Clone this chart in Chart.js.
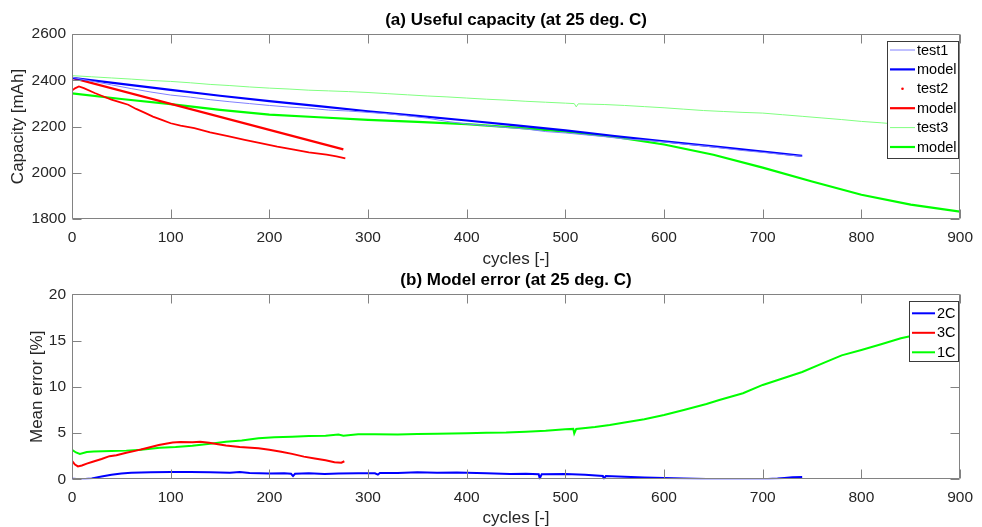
<!DOCTYPE html>
<html><head><meta charset="utf-8">
<script src="https://cdn.jsdelivr.net/npm/chart.js@4.4.0/dist/chart.umd.min.js"></script>
<style>
html,body{margin:0;padding:0;background:#fff;overflow:hidden;width:982px;height:527px;}
canvas{position:absolute;left:0;}
#c1{top:0}
#c2{top:262px}
</style></head><body>
<canvas id="c1" width="982" height="270"></canvas>
<canvas id="c2" width="982" height="265"></canvas>
<script>
// ---------- DATA ----------
const xTicks = [0,100,200,300,400,500,600,700,800,900];
const capTicks = [1800,2000,2200,2400,2600];
const errTicks = [0,5,10,15,20];

const test1Cycles = [0,20,40,60,80,100,120,140,160,180,200,220,240,260,280,300,320,340,360,380,400,420,440,460,480,500,520,540,560,580,600,620,640,660,680,700,720,740];
const test1Cap    = [2413,2396,2380,2364,2349,2336,2327,2316,2307,2299,2291,2284,2279,2271,2267,2261,2255,2246,2236,2222,2211,2204,2196,2189,2178,2172,2164,2156,2146,2141,2133,2124,2116,2106,2096,2088,2079,2071];

const model1Cycles = [0,50,100,150,200,250,300,350,400,450,500,550,600,650,700,740];
const model1Cap    = [2410,2384,2358,2333,2310,2288,2266,2246,2226,2205,2183,2159,2136,2114,2092,2073];

const test2Cycles = [0,3,7,12,23,30,40,50,57,65,74,82,91,100,110,124,140,158,175,191,208,225,240,258,268,277];
const test2Cap    = [2355,2365,2373,2366,2345,2333,2316,2303,2294,2276,2259,2243,2229,2214,2204,2193,2175,2158,2142,2128,2113,2100,2088,2078,2071,2062];

const model2Cycles = [0,275];
const model2Cap    = [2410,2101];

const test3Cycles = [0,20,40,60,80,100,120,140,160,180,200,220,240,260,280,300,320,340,360,380,400,420,440,460,480,500,509,511,513,540,560,580,600,620,640,660,680,700,720,740,760,780,800,820,840,860,880,900];
const test3Cap    = [2420,2415,2410,2405,2399,2395,2389,2382,2377,2371,2366,2362,2357,2354,2351,2347,2342,2337,2332,2328,2323,2318,2314,2309,2305,2301,2299,2285,2298,2295,2291,2286,2281,2275,2269,2265,2261,2258,2251,2244,2237,2230,2222,2216,2209,2203,2198,2193];

const model3Cycles = [0,50,100,150,200,250,300,350,400,450,500,550,600,650,700,750,800,850,900];
const model3Cap    = [2343,2319,2297,2272,2251,2240,2229,2220,2210,2195,2178,2155,2122,2078,2022,1962,1905,1862,1832];

const err2CCycles = [0,10,20,30,40,50,60,80,100,120,140,160,170,180,200,215,222,224,226,240,256,270,290,307,310,312,330,350,370,390,400,420,444,460,473,474,476,500,520,538,539,541,560,580,600,620,643,670,700,715,722,730,740];
const err2C       = [0.05,0.0,0.1,0.3,0.5,0.62,0.7,0.75,0.78,0.78,0.75,0.72,0.78,0.68,0.62,0.65,0.6,0.35,0.6,0.65,0.58,0.62,0.65,0.65,0.5,0.68,0.68,0.75,0.7,0.73,0.72,0.65,0.58,0.6,0.55,0.1,0.55,0.58,0.48,0.36,0.05,0.36,0.28,0.2,0.14,0.08,0.02,0.0,0.0,0.08,0.14,0.22,0.25];

const err3CCycles = [0,3,6,10,15,21,30,38,45,55,65,75,88,95,102,110,122,130,139,148,156,170,189,200,212,223,235,246,257,266,273,276];
const err3C       = [2.0,1.6,1.4,1.5,1.7,1.9,2.2,2.5,2.6,2.88,3.1,3.35,3.7,3.85,3.98,4.02,4.0,4.05,3.96,3.8,3.65,3.5,3.35,3.2,2.98,2.75,2.45,2.25,2.05,1.85,1.8,1.95];

const err1CCycles = [0,4,8,15,22,40,55,70,89,105,122,140,156,172,189,205,223,240,257,270,275,290,307,330,350,370,400,420,440,460,480,500,508,509,511,530,545,560,580,600,620,643,656,680,700,720,740,760,780,800,820,840,860,880,892,898];
const err1C       = [3.2,2.9,2.75,2.95,3.0,3.05,3.1,3.2,3.42,3.5,3.64,3.85,4.07,4.2,4.43,4.55,4.61,4.68,4.72,4.85,4.7,4.88,4.86,4.85,4.9,4.92,4.97,5.02,5.05,5.15,5.25,5.4,5.45,4.95,5.45,5.65,5.87,6.15,6.5,6.95,7.5,8.14,8.57,9.3,10.2,10.9,11.6,12.5,13.4,13.98,14.6,15.24,15.7,16.1,16.3,16.35];

// ---------- HELPERS ----------
const FAMILY = '"Liberation Sans", Arial, Helvetica, sans-serif';
const pts = (xs, ys) => xs.map((x, i) => ({x: x, y: ys[i]}));

const boxPlugin = {
  id: 'matlabBox',
  afterDatasetsDraw(chart) {
    const {ctx, chartArea: a, scales} = chart;
    const L = 9;
    ctx.save();
    ctx.strokeStyle = '#828282';
    ctx.lineWidth = 1;
    ctx.beginPath();
    const l = Math.round(a.left) + 0.5, r = Math.round(a.right) - 0.5;
    const t = Math.round(a.top) + 0.5, b = Math.round(a.bottom) - 0.5;
    ctx.moveTo(l, t); ctx.lineTo(r, t); ctx.lineTo(r, b); ctx.lineTo(l, b); ctx.closePath();
    scales.x.ticks.forEach(tk => {
      const px = Math.round(scales.x.getPixelForValue(tk.value)) + 0.5;
      ctx.moveTo(px, b); ctx.lineTo(px, b - L);
      ctx.moveTo(px, t); ctx.lineTo(px, t + L);
    });
    scales.y.ticks.forEach(tk => {
      const py = Math.round(scales.y.getPixelForValue(tk.value)) + 0.5;
      ctx.moveTo(l, py); ctx.lineTo(l + L, py);
      ctx.moveTo(r, py); ctx.lineTo(r - L, py);
    });
    ctx.stroke();
    ctx.restore();
  }
};

const legendPlugin = {
  id: 'boxLegend',
  afterDraw(chart, args, o) {
    const ctx = chart.ctx;
    ctx.save();
    ctx.fillStyle = '#fff';
    ctx.fillRect(o.x, o.y, o.w, o.h);
    ctx.strokeStyle = '#3a3a3a';
    ctx.lineWidth = 1;
    ctx.strokeRect(o.x + 0.5, o.y + 0.5, o.w, o.h);
    ctx.font = '14.5px ' + FAMILY;
    ctx.textBaseline = 'middle';
    ctx.textAlign = 'left';
    chart.data.datasets.forEach((ds, i) => {
      const y = o.row0 + i * o.step;
      if (ds.legendDot) {
        ctx.fillStyle = ds.borderColor;
        ctx.beginPath();
        ctx.arc((o.lx0 + o.lx1) / 2, y, 1.3, 0, Math.PI * 2);
        ctx.fill();
      } else {
        ctx.strokeStyle = ds.borderColor;
        ctx.lineWidth = ds.borderWidth;
        ctx.beginPath();
        ctx.moveTo(o.lx0, y); ctx.lineTo(o.lx1, y);
        ctx.stroke();
      }
      ctx.fillStyle = '#000';
      ctx.fillText(ds.label, o.tx, y + 0.5);
    });
    ctx.restore();
  }
};

function ds(label, xs, ys, color, width, extra) {
  return Object.assign({
    label: label, data: pts(xs, ys), borderColor: color, backgroundColor: color,
    borderWidth: width, pointRadius: 0, tension: 0, fill: false
  }, extra || {});
}

function makeOptions(cfg) {
  return {
    responsive: false, animation: false, devicePixelRatio: 1,
    layout: {padding: {left: 0, right: 17, top: 0, bottom: 0}},
    plugins: {
      legend: {display: false}, tooltip: {enabled: false},
      title: {display: true, fullSize: false, text: cfg.title, color: '#000',
        font: {family: FAMILY, size: 17, weight: 'bold', lineHeight: 1.2},
        padding: {top: cfg.titleTop, bottom: cfg.titleBottom}},
      boxLegend: cfg.legend
    },
    scales: {
      x: {
        type: 'linear', min: 0, max: 900,
        afterBuildTicks: s => { s.ticks = xTicks.map(v => ({value: v})); },
        afterFit: s => { s.height = cfg.xHeight; },
        grid: {display: false, drawTicks: false},
        border: {display: false},
        ticks: {color: '#262626', padding: 9, maxRotation: 0, autoSkip: false,
          font: {family: FAMILY, size: 15.5}, callback: v => String(v)},
        title: {display: true, text: 'cycles [-]', color: '#262626',
          font: {family: FAMILY, size: 17, lineHeight: 1}, padding: {top: 0, bottom: cfg.xTitleBottom}}
      },
      y: {
        type: 'linear', min: cfg.yMin, max: cfg.yMax,
        afterBuildTicks: s => { s.ticks = cfg.yTicks.map(v => ({value: v})); },
        afterFit: s => { s.width = 72; },
        grid: {display: false, drawTicks: false},
        border: {display: false},
        ticks: {color: '#262626', padding: 6, autoSkip: false,
          font: {family: FAMILY, size: 15.5}, callback: v => String(v)},
        title: {display: true, text: cfg.yTitle, color: '#262626',
          font: {family: FAMILY, size: 17, lineHeight: 1}, padding: {top: cfg.yTitlePad, bottom: 0}}
      }
    }
  };
}

new Chart(document.getElementById('c1'), {
  type: 'line',
  data: {datasets: [
    ds('test1', test1Cycles, test1Cap, '#8080ff', 1),
    ds('model', model1Cycles, model1Cap, '#0000ff', 2.2),
    ds('test2', test2Cycles, test2Cap, '#ff0000', 1.8, {legendDot: true}),
    ds('model', model2Cycles, model2Cap, '#ff0000', 2.2),
    ds('test3', test3Cycles, test3Cap, '#80ff80', 1),
    ds('model', model3Cycles, model3Cap, '#00ff00', 2.2)
  ]},
  options: makeOptions({
    title: '(a) Useful capacity (at 25 deg. C)', titleTop: 10, titleBottom: 3.6,
    xHeight: 51, xTitleBottom: 2.5, yMin: 1800, yMax: 2600, yTicks: capTicks,
    yTitle: 'Capacity [mAh]', yTitlePad: 9.8,
    legend: {x: 887, y: 41, w: 71, h: 117, row0: 50, step: 19.4, lx0: 890, lx1: 915, tx: 917}
  }),
  plugins: [boxPlugin, legendPlugin]
});

new Chart(document.getElementById('c2'), {
  type: 'line',
  data: {datasets: [
    ds('2C', err2CCycles, err2C, '#0000ff', 2),
    ds('3C', err3CCycles, err3C, '#ff0000', 2),
    ds('1C', err1CCycles, err1C, '#00ff00', 2)
  ]},
  options: makeOptions({
    title: '(b) Model error (at 25 deg. C)', titleTop: 8.5, titleBottom: 3.4,
    xHeight: 47.7, xTitleBottom: 0, yMin: 0, yMax: 20, yTicks: errTicks,
    yTitle: 'Mean error [%]', yTitlePad: 29,
    legend: {x: 909, y: 39, w: 49, h: 60, row0: 51.3, step: 19.5, lx0: 912, lx1: 935, tx: 937}
  }),
  plugins: [boxPlugin, legendPlugin]
});
</script>
</body></html>
